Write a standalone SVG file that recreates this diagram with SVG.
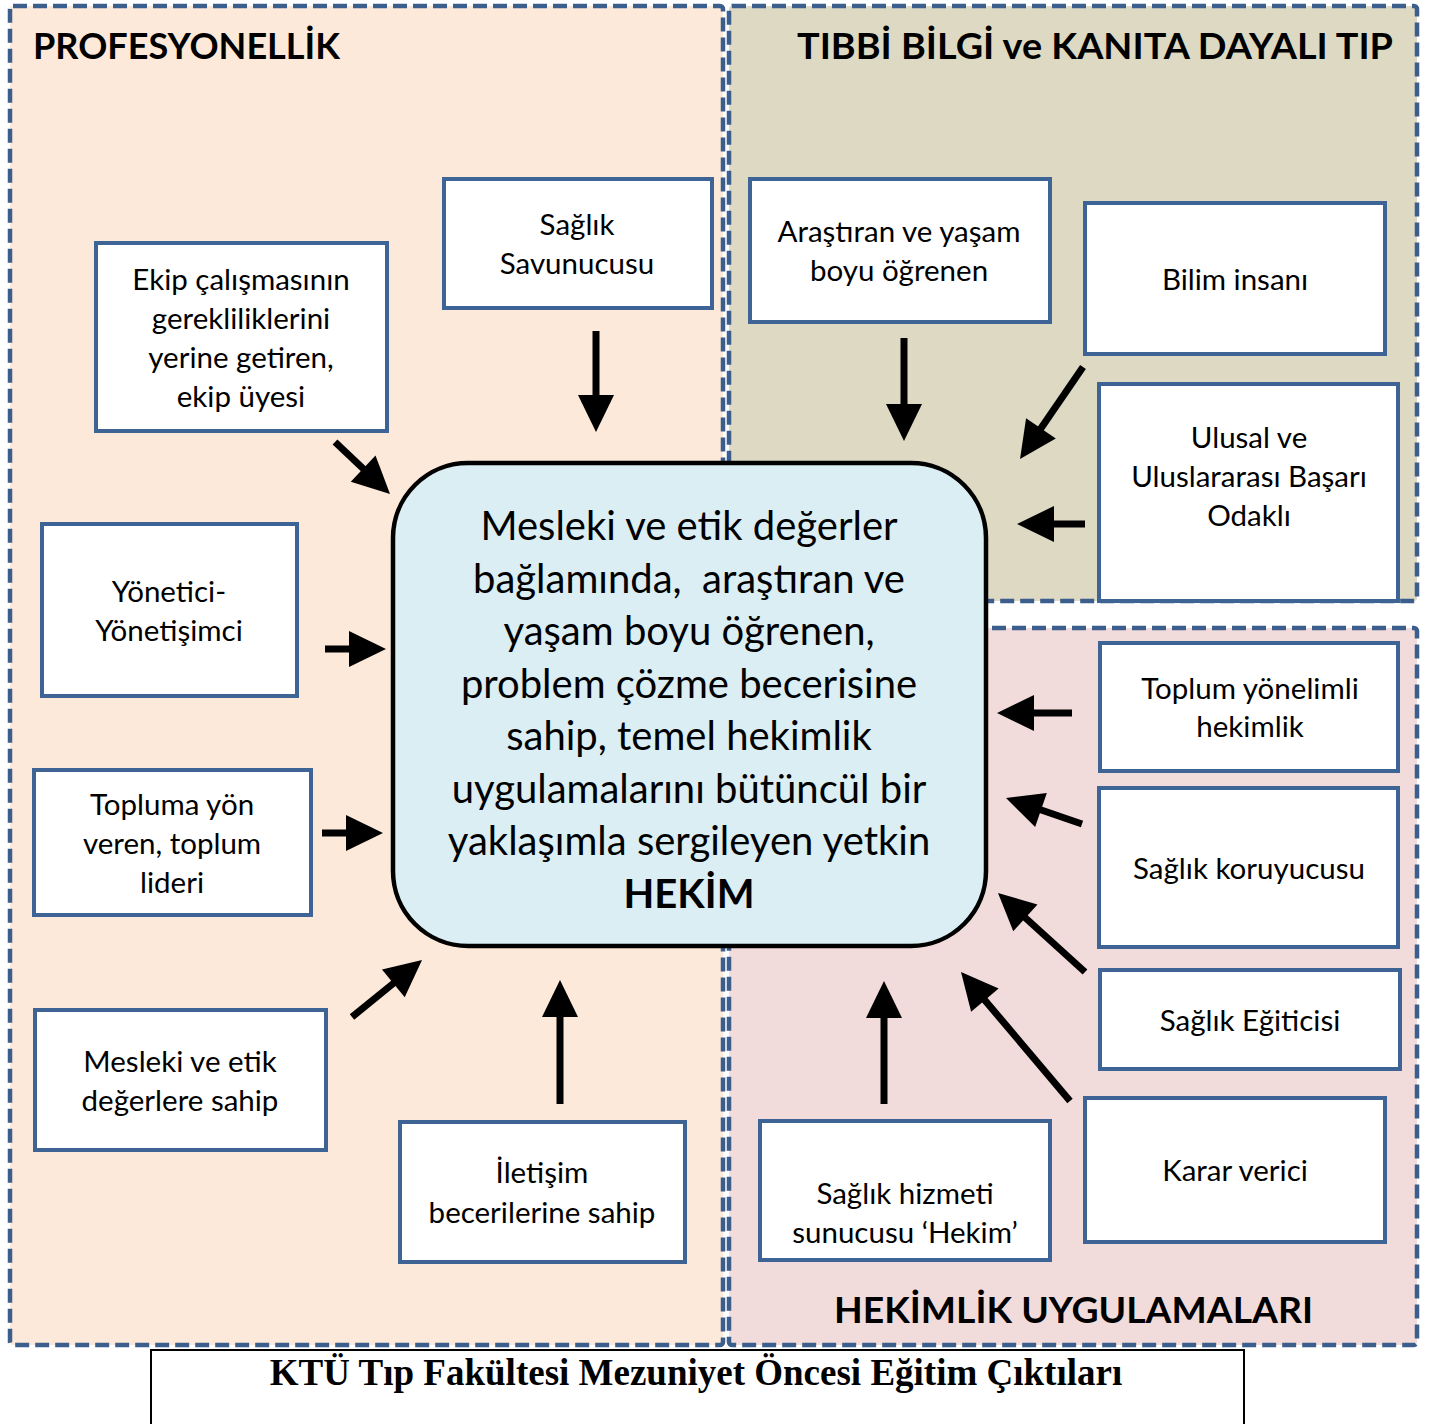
<svg xmlns="http://www.w3.org/2000/svg" width="1442" height="1424" viewBox="0 0 1442 1424">
<defs>
<style>
.region{stroke:#3B5E8C;stroke-width:4.5;stroke-dasharray:14 6}
.box{fill:#fff;stroke:#3E6496;stroke-width:4}
.t{font-family:Lato,"Open Sans","DejaVu Sans",sans-serif;font-size:29.5px;fill:#000;text-anchor:middle}
.c{font-family:Lato,"Open Sans","DejaVu Sans",sans-serif;font-size:40px;fill:#000;text-anchor:middle}
.title{font-family:Lato,"Open Sans","DejaVu Sans",sans-serif;font-size:37px;font-weight:bold;fill:#000}
.arr{stroke:#000;stroke-width:7;fill:none;marker-end:url(#ah)}
</style>
<marker id="ah" markerUnits="userSpaceOnUse" orient="auto" refX="2" refY="0" markerWidth="40" markerHeight="40" overflow="visible">
<path d="M0,-18 L37,0 L0,18 Z" fill="#000"/>
</marker>
</defs>
<rect width="1442" height="1424" fill="#fff"/>
<g id="region-profesyonellik">
<rect class="region" x="10" y="6" width="713" height="1339" rx="3" fill="#FDE9D9"/>
<text class="title" x="33" y="59" textLength="307" lengthAdjust="spacingAndGlyphs">PROFESYONELLİK</text>
</g>
<g id="region-tibbi-bilgi">
<rect class="region" x="729" y="6" width="688" height="595" rx="3" fill="#DDD9C3"/>
<text class="title" x="797" y="59" textLength="596" lengthAdjust="spacingAndGlyphs">TIBBİ BİLGİ ve KANITA DAYALI TIP</text>
</g>
<g id="region-hekimlik">
<rect class="region" x="729" y="628" width="688" height="717" rx="3" fill="#F2DCDB"/>
<text class="title" x="834" y="1323" textLength="479" lengthAdjust="spacingAndGlyphs">HEKİMLİK UYGULAMALARI</text>
</g>
<g id="center">
<rect x="393" y="463" width="593" height="483" rx="75" fill="#DAEEF3" stroke="#000" stroke-width="4.5"/>
<text class="c" x="689" y="540">Mesleki ve etik değerler</text>
<text class="c" x="689" y="593" xml:space="preserve">bağlamında,  araştıran ve</text>
<text class="c" x="689" y="645">yaşam boyu öğrenen,</text>
<text class="c" x="689" y="698">problem çözme becerisine</text>
<text class="c" x="689" y="750">sahip, temel hekimlik</text>
<text class="c" x="689" y="803">uygulamalarını bütüncül bir</text>
<text class="c" x="689" y="855">yaklaşımla sergileyen yetkin</text>
<text class="c" x="689" y="908" font-weight="bold">HEKİM</text>
</g>
<g id="n-savunucu"><rect class="box" x="444" y="179" width="268" height="129"/>
<text class="t" x="577" y="235">Sağlık</text><text class="t" x="577" y="274">Savunucusu</text></g>
<g id="n-ekip"><rect class="box" x="96" y="243" width="291" height="188"/>
<text class="t" x="241" y="290">Ekip çalışmasının</text><text class="t" x="241" y="329">gerekliliklerini</text><text class="t" x="241" y="368">yerine getiren,</text><text class="t" x="241" y="407">ekip üyesi</text></g>
<g id="n-yonetici"><rect class="box" x="42" y="524" width="255" height="172"/>
<text class="t" x="169" y="602">Yönetici-</text><text class="t" x="169" y="641">Yönetişimci</text></g>
<g id="n-lider"><rect class="box" x="34" y="770" width="277" height="145"/>
<text class="t" x="172" y="815">Topluma yön</text><text class="t" x="172" y="854">veren, toplum</text><text class="t" x="172" y="893">lideri</text></g>
<g id="n-mesleki"><rect class="box" x="35" y="1010" width="291" height="140"/>
<text class="t" x="180" y="1072">Mesleki ve etik</text><text class="t" x="180" y="1111">değerlere sahip</text></g>
<g id="n-iletisim"><rect class="box" x="400" y="1122" width="285" height="140"/>
<text class="t" x="542" y="1183">İletişim</text><text class="t" x="542" y="1223">becerilerine sahip</text></g>
<g id="n-arastiran"><rect class="box" x="750" y="179" width="300" height="143"/>
<text class="t" x="899" y="242">Araştıran ve yaşam</text><text class="t" x="899" y="281">boyu öğrenen</text></g>
<g id="n-bilim"><rect class="box" x="1085" y="203" width="300" height="151"/>
<text class="t" x="1235" y="290">Bilim insanı</text></g>
<g id="n-basari"><rect class="box" x="1099" y="384" width="299" height="217"/>
<text class="t" x="1249" y="448">Ulusal ve</text><text class="t" x="1249" y="487">Uluslararası Başarı</text><text class="t" x="1249" y="526">Odaklı</text></g>
<g id="n-toplum"><rect class="box" x="1100" y="643" width="298" height="128"/>
<text class="t" x="1250" y="699">Toplum yönelimli</text><text class="t" x="1250" y="737">hekimlik</text></g>
<g id="n-koruyucu"><rect class="box" x="1099" y="788" width="299" height="159"/>
<text class="t" x="1249" y="879">Sağlık koruyucusu</text></g>
<g id="n-egitici"><rect class="box" x="1100" y="970" width="300" height="99"/>
<text class="t" x="1250" y="1031">Sağlık Eğiticisi</text></g>
<g id="n-karar"><rect class="box" x="1085" y="1098" width="300" height="144"/>
<text class="t" x="1235" y="1181">Karar verici</text></g>
<g id="n-hizmet"><rect class="box" x="760" y="1121" width="290" height="139"/>
<text class="t" x="905" y="1204">Sağlık hizmeti</text><text class="t" x="905" y="1243">sunucusu ‘Hekim’</text></g>
<g id="connectors">
<line class="arr" x1="596" y1="331" x2="596" y2="397"/>
<line class="arr" x1="335" y1="442" x2="364.6" y2="470"/>
<line class="arr" x1="325" y1="649" x2="351" y2="649"/>
<line class="arr" x1="322" y1="833" x2="348" y2="833"/>
<line class="arr" x1="352" y1="1017" x2="394.9" y2="982.1"/>
<line class="arr" x1="560" y1="1104" x2="560" y2="1015"/>
<line class="arr" x1="904" y1="338" x2="904" y2="406"/>
<line class="arr" x1="1083" y1="367" x2="1039.8" y2="430.1"/>
<line class="arr" x1="1085" y1="524" x2="1052" y2="524"/>
<line class="arr" x1="1072" y1="713" x2="1032" y2="713"/>
<line class="arr" x1="1082" y1="824" x2="1039.1" y2="809.3"/>
<line class="arr" x1="1085" y1="972" x2="1023.9" y2="916.5"/>
<line class="arr" x1="1070" y1="1101" x2="983.6" y2="998.7"/>
<line class="arr" x1="884" y1="1104" x2="884" y2="1016"/>
</g>
<g id="caption">
<rect x="151" y="1350" width="1093" height="80" fill="#fff" stroke="#000" stroke-width="2"/>
<text x="696" y="1385" font-family="'Liberation Serif','Times New Roman',serif" font-weight="bold" font-size="37" text-anchor="middle">KTÜ Tıp Fakültesi Mezuniyet Öncesi Eğitim Çıktıları</text>
</g>
</svg>
